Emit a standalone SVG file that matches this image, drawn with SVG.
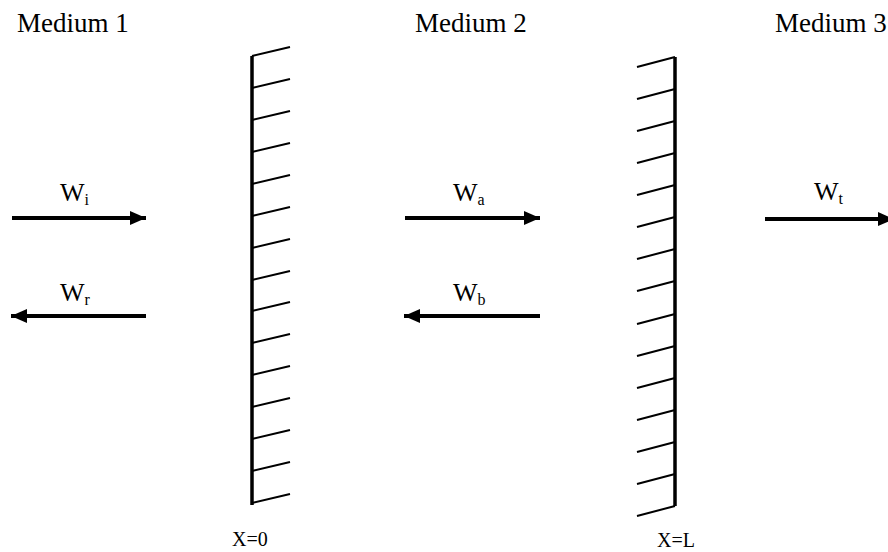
<svg xmlns="http://www.w3.org/2000/svg" width="888" height="552" viewBox="0 0 888 552">
<style>
text{font-family:"Liberation Serif","Times New Roman",Tinos,"DejaVu Serif","Noto Serif",serif;fill:#000}
.med{font-size:27px}
.w{font-size:26px}
.sub{font-size:16px}
.xl{font-size:20px}
.wall{stroke:#000;stroke-width:3.5;fill:none}
.hatch{stroke:#000;stroke-width:2;fill:none}
.arr{stroke:#000;stroke-width:4;fill:none;marker-end:url(#ah)}
</style>
<defs>
<marker id="ah" markerUnits="userSpaceOnUse" markerWidth="17" markerHeight="14" refX="16" refY="7" orient="auto">
<path d="M0,0 L16,7 L0,14 z" fill="#000"/>
</marker>
</defs>
<rect width="888" height="552" fill="#fff"/>
<g id="medium1"><text class="med" x="17" y="32">Medium 1</text></g>
<g id="medium2"><text class="med" x="415" y="32">Medium 2</text></g>
<g id="medium3"><text class="med" x="775" y="32">Medium 3</text></g>
<g id="wall-x0">
<line class="wall" x1="252" y1="56" x2="252" y2="505"/>
<path class="hatch" d="M252,56 l38,-9 M252,88 l38,-9 M252,120 l38,-9 M252,152 l38,-9 M252,184 l38,-9 M252,216 l38,-9 M252,248 l38,-9 M252,280 l38,-9 M252,311 l38,-9 M252,343 l38,-9 M252,375 l38,-9 M252,407 l38,-9 M252,439 l38,-9 M252,471 l38,-9 M252,503 l38,-9"/>
<text class="xl" x="232" y="546">X=0</text>
</g>
<g id="wall-xL">
<line class="wall" x1="675" y1="57" x2="675" y2="506"/>
<path class="hatch" d="M675,57 l-38,10 M675,89 l-38,10 M675,121 l-38,10 M675,153 l-38,10 M675,185 l-38,10 M675,217 l-38,10 M675,249 l-38,10 M675,281 l-38,10 M675,314 l-38,10 M675,346 l-38,10 M675,378 l-38,10 M675,410 l-38,10 M675,442 l-38,10 M675,474 l-38,10 M675,506 l-38,10"/>
<text class="xl" x="657" y="547">X=L</text>
</g>
<g id="connectors">
<line class="arr" x1="12" y1="218" x2="146" y2="218"/>
<line class="arr" x1="146" y1="316" x2="11" y2="316"/>
<line class="arr" x1="405" y1="218" x2="540" y2="218"/>
<line class="arr" x1="540" y1="316" x2="404" y2="316"/>
<line class="arr" x1="765" y1="219" x2="894" y2="219"/>
</g>
<g id="labels">
<text class="w" x="60" y="201">W<tspan class="sub" dy="4">i</tspan></text>
<text class="w" x="60" y="301">W<tspan class="sub" dy="4">r</tspan></text>
<text class="w" x="453" y="201">W<tspan class="sub" dy="4">a</tspan></text>
<text class="w" x="453" y="301">W<tspan class="sub" dy="4">b</tspan></text>
<text class="w" x="814" y="200">W<tspan class="sub" dy="4">t</tspan></text>
</g>
</svg>
